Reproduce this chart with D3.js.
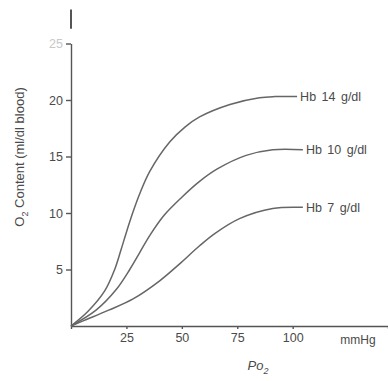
<!DOCTYPE html>
<html>
<head>
  <meta charset="UTF-8">
  <style>
  body { margin:0; background:#fff; }
  svg text { font-family:"Liberation Sans",Arial,sans-serif; fill:#4a4a4a; }
  </style>
</head>
<body>
  <div id="chart"></div>
  <script src="https://d3js.org/d3.v7.min.js"></script>
  <script>
    // PO2 (mmHg) vs O2 content (ml/dl blood)
    var hb14 = [[0,0],[7.7,1.3],[15.2,3.1],[19.7,5.0],[22.5,6.7],[25,8.3],[28,10.1],[31,11.7],[35.6,13.7],[44.6,16.3],[51.4,17.6],[58,18.5],[71.7,19.6],[85,20.2],[92,20.3],[102,20.3]];
    var hb10 = [[0,0],[11.3,1.4],[20.3,3.2],[26.5,5.0],[31,6.5],[35.5,8.0],[42,9.8],[50,11.4],[58,12.8],[66,13.9],[79,15.1],[91,15.6],[104.6,15.6]];
    var hb7  = [[0,0],[6,0.5],[17,1.4],[28,2.4],[40,4.0],[49,5.5],[58,7.1],[65,8.2],[76,9.5],[91,10.4],[104.6,10.5]];
    var seriesNames = ["Hb 14 g/dl", "Hb 10 g/dl", "Hb 7 g/dl"];
    var xTicks = [25, 50, 75, 100];
    var yTicks = [5, 10, 15, 20, 25];

    var svg = d3.select("#chart").append("svg")
      .attr("width", 388)
      .attr("height", 381);

    var x = d3.scaleLinear().domain([0, 143]).range([71, 388]);
    var y = d3.scaleLinear().domain([0, 25]).range([326, 43.5]);

    var line = d3.line()
      .x(function(d) { return x(d[0]); })
      .y(function(d) { return y(d[1]); })
      .curve(d3.curveCatmullRom.alpha(0.5));

    // x axis
    var gx = svg.append("g")
      .attr("transform", "translate(0," + y(0) + ")")
      .call(d3.axisBottom(x).tickValues(xTicks).tickSize(3).tickPadding(4));
    gx.selectAll("text").style("font-size", "12.5px");

    // y axis
    var gy = svg.append("g")
      .attr("transform", "translate(" + x(0) + ",0)")
      .call(d3.axisLeft(y).tickValues(yTicks).tickSize(5).tickPadding(3).tickSizeOuter(0));
    gy.selectAll("text").style("font-size", "12.5px")
      .style("fill", function(d) { return d === 25 ? "#c8c8c8" : null; });

    svg.selectAll(".domain, .tick line").attr("stroke", "#555").attr("stroke-width", 1.4);

    // short loose piece of the axis above the top
    svg.append("line")
      .attr("x1", x(0)).attr("x2", x(0))
      .attr("y1", y(26.3)).attr("y2", y(28))
      .attr("stroke", "#555").attr("stroke-width", 2);

    [hb14, hb10, hb7].forEach(function(s, i) {
      svg.append("path")
        .datum(s)
        .attr("fill", "none")
        .attr("stroke", "#666")
        .attr("stroke-width", 1.5)
        .attr("d", line);
      var last = s[s.length - 1];
      svg.append("text")
        .attr("x", x(last[0]) + 3)
        .attr("y", y(last[1]))
        .attr("dy", "0.35em")
        .style("font-size", "12.5px")
        .style("word-spacing", "2px")
        .text(seriesNames[i]);
    });

    svg.append("text")
      .attr("x", 358).attr("y", y(0) + 18)
      .attr("text-anchor", "middle")
      .style("font-size", "12px")
      .text("mmHg");

    var px = svg.append("text")
      .attr("x", 258).attr("y", 370)
      .attr("text-anchor", "middle")
      .style("font-size", "13px")
      .style("font-style", "italic");
    px.append("tspan").text("Po");
    px.append("tspan").attr("dy", 4).style("font-size", "9px").text("2");

    var yl = svg.append("text")
      .attr("transform", "translate(24,157) rotate(-90)")
      .attr("text-anchor", "middle")
      .style("font-size", "13px");
    yl.append("tspan").text("O");
    yl.append("tspan").attr("dy", 4).style("font-size", "9px").text("2");
    yl.append("tspan").attr("dy", -4).text(" Content (ml/dl blood)");
  </script>
</body>
</html>
